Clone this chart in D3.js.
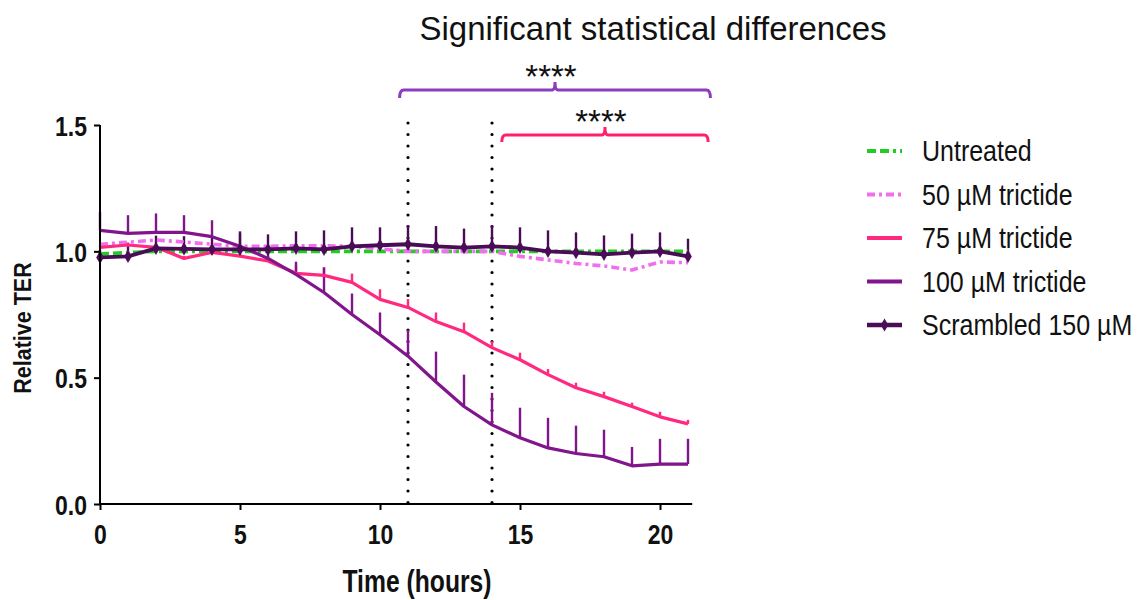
<!DOCTYPE html>
<html><head><meta charset="utf-8">
<script src="https://cdn.jsdelivr.net/npm/d3@7"></script>
<style>body{margin:0;background:#fff} svg{display:block}</style>
</head><body>
<svg id="chart" width="1147" height="600"></svg>
<script>
// ---- data ----
const hours = [0,1,2,3,4,5,6,7,8,9,10,11,12,13,14,15,16,17,18,19,20,21];
const untreated   = [0.99,0.995,1.0,1.0,1.0,1.0,1.0,1.0,1.0,1.0,1.0,1.0,1.0,1.0,1.0,1.0,1.0,1.0,1.0,1.0,1.0,1.0];
const trictide50  = [1.028,1.036,1.045,1.037,1.028,1.02,1.02,1.022,1.022,1.02,1.01,1.0,1.0,1.0,1.0,0.98,0.966,0.952,0.942,0.926,0.958,0.955];
const trictide75  = [1.016,1.025,1.016,0.972,0.996,0.981,0.962,0.913,0.905,0.877,0.81,0.778,0.722,0.682,0.619,0.571,0.512,0.46,0.425,0.386,0.345,0.317];
const err75       = [0.01,0.01,0.01,0.01,0.01,0.01,0.02,0.03,0.03,0.035,0.04,0.033,0.036,0.036,0.025,0.028,0.022,0.02,0.019,0.015,0.02,0.016];
const trictide100 = [1.083,1.071,1.075,1.075,1.058,1.02,0.972,0.909,0.837,0.75,0.67,0.585,0.483,0.386,0.313,0.262,0.222,0.2,0.187,0.151,0.158,0.158];
const err100      = [0.072,0.072,0.075,0.068,0.065,0.05,0.05,0.05,0.1,0.083,0.088,0.105,0.12,0.126,0.127,0.119,0.119,0.11,0.107,0.075,0.1,0.1];
const scrambled   = [0.976,0.98,1.012,1.01,1.008,1.008,1.008,1.012,1.008,1.02,1.024,1.028,1.02,1.015,1.02,1.015,1.0,0.995,0.988,0.995,1.0,0.98];
const errScr      = [0.03,0.05,0.05,0.05,0.05,0.071,0.059,0.067,0.075,0.075,0.071,0.075,0.08,0.075,0.083,0.08,0.083,0.08,0.075,0.075,0.075,0.07];
const seriesNames = ["Untreated","50 \u00b5M trictide","75 \u00b5M trictide","100 \u00b5M trictide","Scrambled 150 \u00b5M"];
const xTicks = [0,5,10,15,20];
const yTicks = [0,0.5,1.0,1.5];
const sigLines = [11,14];
const bracketSpans = [[10.7,21.8],[14.35,21.72]];
const bracketLabels = ["****","****"];
const titleText = "Significant statistical differences";
const xLabel = "Time (hours)";
const yLabel = "Relative TER";

// ---- styles ----
const colors = ["#22cc22","#f26ef0","#ff2a7f","#80158c","#4a0b57"];
const dashes = ["9,4,9,4,3,4","8,4,3,4",null,null,null];
const widths = [3.6,3.6,3.2,3.2,3.8];
const bracketColors = ["#8a3dc0","#ff1f6b"];

const series = seriesNames.map((n,i)=>({
  name:n,
  values:[untreated,trictide50,trictide75,trictide100,scrambled][i],
  err:[null,null,err75,err100,errScr][i],
  color:colors[i], dash:dashes[i], width:widths[i], marker:i===4
}));

const svg = d3.select("#chart");
const x = d3.scaleLinear().domain([0,21]).range([100,688]);
const y = d3.scaleLinear().domain([0,1.5]).range([504,125]);
const FONT = "'Liberation Sans', Arial, sans-serif";

// title
svg.append("text").attr("x",653).attr("y",40).attr("text-anchor","middle")
  .attr("font-family",FONT).attr("font-size",33).attr("fill","#111").text(titleText);

// significance dotted lines
svg.selectAll(".sig").data(sigLines).join("line")
  .attr("x1",d=>x(d)).attr("x2",d=>x(d)).attr("y1",123).attr("y2",y(0))
  .attr("stroke","#000").attr("stroke-width",3.2).attr("stroke-linecap","round")
  .attr("stroke-dasharray","0,11.5");

// brackets
const bracketY = [90,135];
const bracketTip = [8,7];
bracketSpans.forEach((s,i)=>{
  const x0=x(s[0]), x1=x(s[1]), by=bracketY[i], mid=(x0+x1)/2;
  const p = d3.path();
  p.moveTo(x0,by+bracketTip[i]); p.quadraticCurveTo(x0,by,x0+4,by);
  p.lineTo(mid-3,by); p.quadraticCurveTo(mid,by,mid,by-8);
  p.quadraticCurveTo(mid,by,mid+3,by);
  p.lineTo(x1-4,by); p.quadraticCurveTo(x1,by,x1,by+bracketTip[i]);
  svg.append("path").attr("d",p.toString()).attr("fill","none")
    .attr("stroke",bracketColors[i]).attr("stroke-width",3);
  svg.append("text").attr("x",mid-4).attr("y",by-2).attr("text-anchor","middle")
    .attr("font-family",FONT).attr("font-size",33).attr("fill","#111").text(bracketLabels[i]);
});

// error bars (upward)
series.forEach(s=>{
  if(!s.err) return;
  svg.append("g").selectAll("line").data(hours).join("line")
    .attr("x1",(d)=>x(d)).attr("x2",(d)=>x(d))
    .attr("y1",(d,i)=>y(s.values[i])).attr("y2",(d,i)=>y(s.values[i]+s.err[i]))
    .attr("stroke",s.color).attr("stroke-width",2.4);
});

// lines
const line = d3.line().x(d=>x(d[0])).y(d=>y(d[1]));
series.forEach(s=>{
  svg.append("path").datum(hours.map((h,i)=>[h,s.values[i]]))
    .attr("d",line).attr("fill","none").attr("stroke",s.color)
    .attr("stroke-width",s.width).attr("stroke-dasharray",s.dash)
    .attr("stroke-linejoin","round");
  if(s.marker){
    svg.append("g").selectAll("path").data(hours).join("path")
      .attr("d",d3.symbol(d3.symbolDiamond).size(50))
      .attr("transform",(d,i)=>`translate(${x(d)},${y(s.values[i])})`)
      .attr("fill",s.color);
  }
});

// axes
const gx = svg.append("g").attr("transform",`translate(0,${y(0)})`)
  .call(d3.axisBottom(x).tickValues(xTicks).tickSize(6).tickSizeOuter(0).tickFormat(d3.format("d")));
gx.select(".domain").remove();
gx.append("line").attr("x1",x(0)-1).attr("x2",x(21.15)).attr("stroke","#000").attr("stroke-width",2);
gx.selectAll(".tick line").attr("stroke","#000").attr("stroke-width",2);
gx.selectAll(".tick text").attr("y",0).attr("dy",null)
  .attr("transform","translate(0,40) scale(1,1.2)")
  .attr("font-family",FONT).attr("font-weight","bold").attr("font-size",23).attr("fill","#111");

const gy = svg.append("g").attr("transform",`translate(${x(0)},0)`)
  .call(d3.axisLeft(y).tickValues(yTicks).tickSize(6).tickSizeOuter(0).tickFormat(d3.format(".1f")));
gy.select(".domain").remove();
gy.append("line").attr("y1",y(0)+1).attr("y2",y(1.5)).attr("stroke","#000").attr("stroke-width",2);
gy.selectAll(".tick line").attr("stroke","#000").attr("stroke-width",2);
gy.selectAll(".tick text").attr("x",0).attr("dy",null)
  .attr("transform","translate(-13,10) scale(1,1.2)")
  .attr("font-family",FONT).attr("font-weight","bold").attr("font-size",23).attr("fill","#111");

// axis titles
svg.append("text").attr("transform","translate(417,592) scale(0.95,1.2)")
  .attr("text-anchor","middle").attr("font-family",FONT).attr("font-weight","bold")
  .attr("font-size",26).attr("fill","#111").text(xLabel);
svg.append("text").attr("transform","translate(31,328) rotate(-90) scale(1,1.15)")
  .attr("text-anchor","middle").attr("font-family",FONT).attr("font-weight","bold")
  .attr("font-size",21.5).attr("fill","#111").text(yLabel);

// legend
const lg = svg.append("g");
series.forEach((s,i)=>{
  const cy = 151 + i*43.5;
  lg.append("line").attr("x1",867).attr("x2",902).attr("y1",cy).attr("y2",cy)
    .attr("stroke",s.color).attr("stroke-width",s.width+0.6).attr("stroke-dasharray",s.dash);
  if(s.marker){
    lg.append("path").attr("d",d3.symbol(d3.symbolDiamond).size(50))
      .attr("transform",`translate(884.5,${cy})`).attr("fill",s.color);
  }
  lg.append("text").attr("transform",`translate(922,${cy+10}) scale(1,1.2)`)
    .attr("font-family",FONT).attr("font-size",25).attr("fill","#111").text(s.name);
});
</script>
</body></html>
